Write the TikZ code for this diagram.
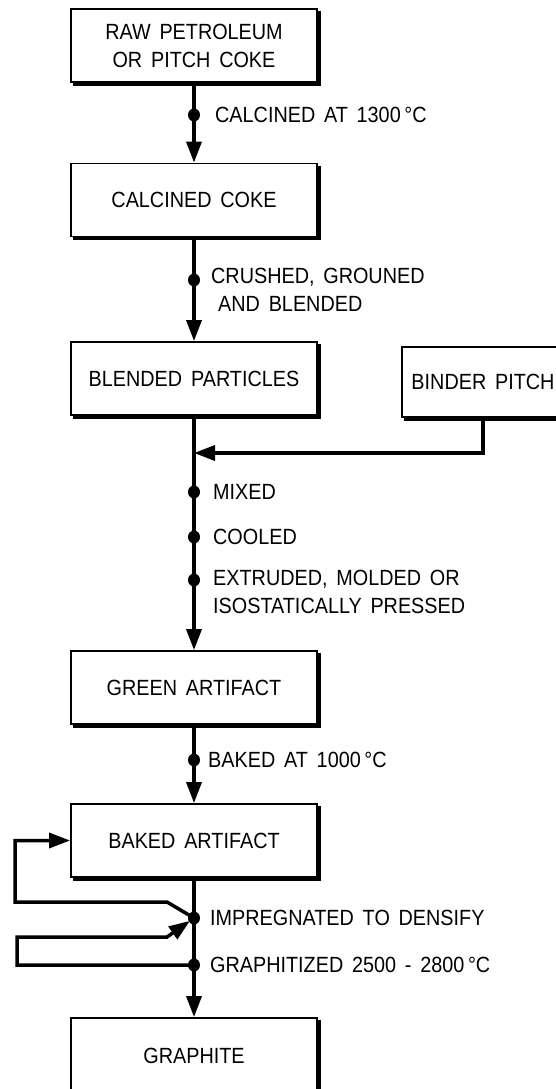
\documentclass[tikz,border=0pt]{standalone}
\usepackage{fontspec}
\setmainfont{Liberation Sans}[FakeStretch=0.9, WordSpace=1.6]
\usetikzlibrary{arrows.meta}

\begin{document}
\begin{tikzpicture}[x=1pt, y=-1pt, >={Triangle[length=21pt, width=15pt]},
	every node/.style={font=\fontsize{22}{28}\selectfont},
	procbox/.style={draw, line width=1.8pt, minimum width=246pt, minimum height=73pt, inner sep=0pt, align=center},
	shadowline/.style={line width=3pt},
	flow/.style={line width=3.5pt},
	stage/.style={anchor=west, align=left, inner sep=0pt}]
	\useasboundingbox (0,0) rectangle (556,1089);
	\clip (0,0) rectangle (556,1089);
	% process boxes
	\node[procbox] (raw) at (194,45.5) {RAW PETROLEUM\\OR PITCH COKE};
	\node[procbox] (calc) at (194,200) {CALCINED COKE};
	\node[procbox] (blend) at (194,378.5) {BLENDED PARTICLES};
	\node[procbox, minimum width=162pt, minimum height=70pt] (binder) at (483,382) {BINDER PITCH};
	\node[procbox] (green) at (194,687.5) {GREEN ARTIFACT};
	\node[procbox] (baked) at (194,840.5) {BAKED ARTIFACT};
	\node[procbox, minimum height=76pt] (graph) at (194,1056) {GRAPHITE};
	\foreach \b in {raw,calc,blend,binder,green,baked,graph}
		\draw[shadowline] ([xshift=1.5pt,yshift=-3pt]\b.north east) -- ([xshift=1.5pt,yshift=-1.5pt]\b.south east) -- ([xshift=3pt,yshift=-1.5pt]\b.south west);
	% points on the main line
	\coordinate (d1) at (194,115);
	\coordinate (d2) at (194,280);
	\coordinate (join) at (194,453);
	\coordinate (d3) at (194,492);
	\coordinate (d4) at (194,537);
	\coordinate (d5) at (194,580);
	\coordinate (d6) at (194,760);
	\coordinate (d7) at (194,918);
	\coordinate (d8) at (194,965);
	% corners of the two loops
	\coordinate (ua) at (167,902);
	\coordinate (ub) at (15,902);
	\coordinate (la) at (17,965);
	\coordinate (lb) at (17,937);
	\coordinate (lc) at (167,937);
	% main flow
	\draw[flow,->] (raw) -- (calc);
	\draw[flow,->] (calc) -- (blend);
	\draw[flow,->] (blend) -- (green);
	\draw[flow,->] (binder.south) |- (join);
	\draw[flow,->] (green) -- (baked);
	\draw[flow,->] (baked) -- (graph);
	\draw[flow,->] (d7) -- (ua) -- (ub) |- (baked.west);
	\draw[flow,->, shorten >=5pt] (d8) -- (la) -- (lb) -- (lc) -- (d7);
	\foreach \d in {d1,d2,d3,d4,d5,d6,d7,d8}
		\fill (\d) circle[x radius=6, y radius=6.5];
	% step labels
	\node[stage] (l1) at (215,115) {CALCINED AT 1300\,°C};
	\node[stage] (l2) at (211,290) {CRUSHED, GROUNED\\\hspace*{7pt}AND BLENDED};
	\node[stage] (l3) at (213,492) {MIXED};
	\node[stage] (l4) at (213,537) {COOLED};
	\node[stage] (l5) at (213,592) {EXTRUDED, MOLDED OR\\ISOSTATICALLY PRESSED};
	\node[stage] (l6) at (208,760) {BAKED AT 1000\,°C};
	\node[stage] (l7) at (210,918) {IMPREGNATED TO DENSIFY};
	\node[stage] (l8) at (210,965) {GRAPHITIZED 2500 - 2800\,°C};
\end{tikzpicture}
\end{document}
